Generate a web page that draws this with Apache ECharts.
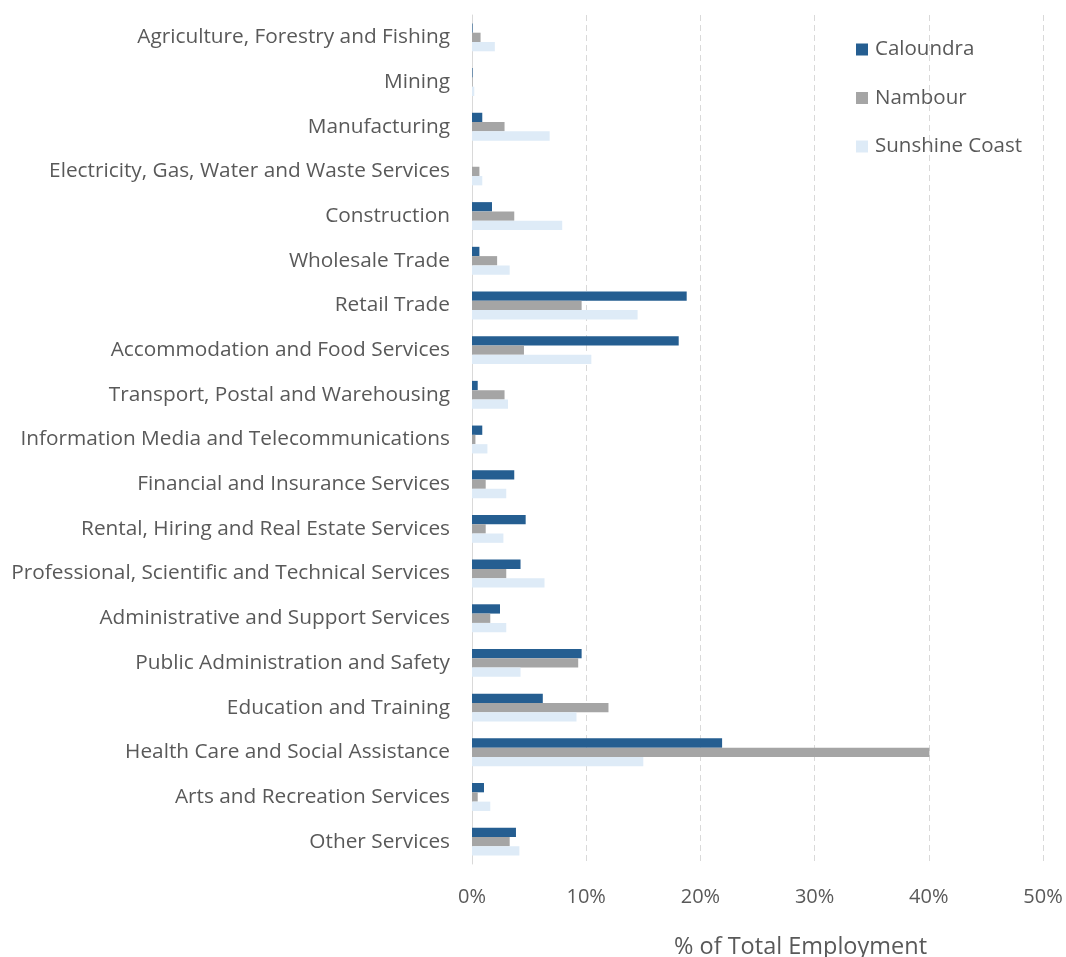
<!DOCTYPE html>
<html>
<head>
<meta charset="utf-8">
<script src="https://cdn.jsdelivr.net/npm/echarts@6/dist/echarts.min.js"></script>
<style>
html,body{margin:0;padding:0;background:#fff;}
#chart{width:1066px;height:957px;}
</style>
</head>
<body>
<div id="chart"></div>
<script>
var industries = [
    'Agriculture, Forestry and Fishing',
    'Mining',
    'Manufacturing',
    'Electricity, Gas, Water and Waste Services',
    'Construction',
    'Wholesale Trade',
    'Retail Trade',
    'Accommodation and Food Services',
    'Transport, Postal and Warehousing',
    'Information Media and Telecommunications',
    'Financial and Insurance Services',
    'Rental, Hiring and Real Estate Services',
    'Professional, Scientific and Technical Services',
    'Administrative and Support Services',
    'Public Administration and Safety',
    'Education and Training',
    'Health Care and Social Assistance',
    'Arts and Recreation Services',
    'Other Services'
];
// % of total employment
var caloundra = [0.05, 0.05, 0.9, 0.0, 1.75, 0.65, 18.8, 18.1, 0.5, 0.9, 3.7, 4.7, 4.25, 2.45, 9.6, 6.2, 21.9, 1.05, 3.85];
var nambour = [0.75, 0.05, 2.85, 0.65, 3.7, 2.2, 9.6, 4.55, 2.85, 0.3, 1.2, 1.2, 3.0, 1.6, 9.3, 11.95, 40.05, 0.5, 3.3];
var sunshineCoast = [2.0, 0.2, 6.8, 0.9, 7.9, 3.3, 14.5, 10.45, 3.15, 1.35, 3.0, 2.75, 6.35, 3.0, 4.25, 9.15, 15.0, 1.6, 4.15];
var xTicks = [0, 10, 20, 30, 40, 50];

var chart = echarts.init(document.getElementById('chart'));
var font = 'Open Sans';
var grey = '#595959';

var option = {
    animation: false,
    textStyle: { fontFamily: font },
    grid: { left: 472, right: 23, top: 15, bottom: 93, containLabel: false, outerBoundsMode: 'none' },
    legend: {
        orient: 'vertical',
        left: 851, top: 34,
        itemWidth: 12, itemHeight: 12, itemGap: 27.5,
        itemStyle: { borderWidth: 0 },
        icon: 'rect',
        textStyle: { fontSize: 20.5, color: grey, fontFamily: font, padding: [0, 0, 0, 2] },
        data: ['Caloundra', 'Nambour', 'Sunshine Coast']
    },
    xAxis: {
        type: 'value',
        min: xTicks[0], max: xTicks[xTicks.length - 1], interval: 10,
        axisLine: { show: false },
        axisTick: { show: false },
        axisLabel: { formatter: '{value}%', fontSize: 20, color: grey, margin: 23 },
        splitLine: { show: true, lineStyle: { color: '#d9d9d9', type: [6, 4], width: 1 } },
        name: '% of Total Employment',
        nameLocation: 'middle',
        nameGap: 71,
        nameTextStyle: { fontSize: 23.5, color: grey, padding: [0, 0, 0, 86] }
    },
    yAxis: {
        type: 'category',
        inverse: true,
        data: industries,
        axisLine: { show: true, lineStyle: { color: '#d9d9d9', width: 1 } },
        axisTick: { show: false },
        axisLabel: { fontSize: 20.8, color: grey, margin: 22 }
    },
    series: [
        { name: 'Caloundra', type: 'bar', data: caloundra, barWidth: 9.3, barGap: '0%', itemStyle: { color: '#255e91' } },
        { name: 'Nambour', type: 'bar', data: nambour, barWidth: 9.3, barGap: '0%', itemStyle: { color: '#a5a5a5' } },
        { name: 'Sunshine Coast', type: 'bar', data: sunshineCoast, barWidth: 9.3, barGap: '0%', itemStyle: { color: '#deebf7' } }
    ]
};
chart.setOption(option);
window.addEventListener('resize', chart.resize);
</script>
</body>
</html>
